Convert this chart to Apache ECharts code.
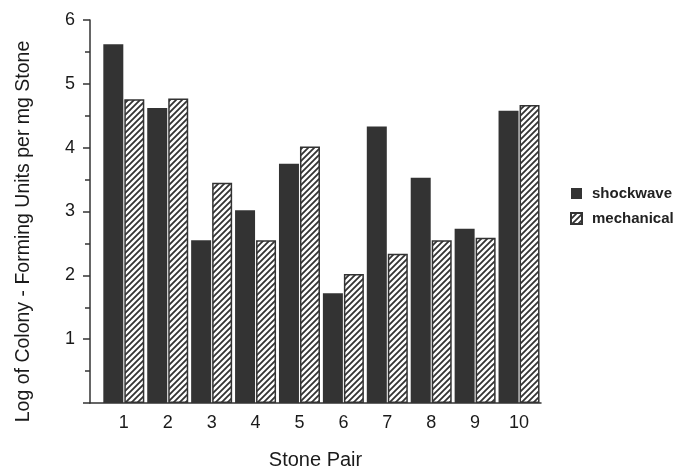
<!DOCTYPE html>
<html>
<head>
<meta charset="utf-8">
<style>html,body{margin:0;padding:0;background:#fff;}#chart{width:679px;height:470px;}</style>
<script src="https://cdn.jsdelivr.net/npm/echarts@6/dist/echarts.min.js"></script>
</head>
<body>
<div id="chart"></div>
<script>
const pairs = [1, 2, 3, 4, 5, 6, 7, 8, 9, 10];
const shockwave = [5.62, 4.62, 2.55, 3.02, 3.75, 1.72, 4.33, 3.53, 2.73, 4.58];
const mechanical = [4.76, 4.77, 3.45, 2.55, 4.02, 2.02, 2.34, 2.55, 2.59, 4.67];
const yTicks = [0, 1, 2, 3, 4, 5, 6];

const ink = '#333333';
const hatch = document.createElement('canvas');
hatch.width = 6; hatch.height = 6;
const hc = hatch.getContext('2d');
hc.fillStyle = '#fff'; hc.fillRect(0, 0, 6, 6);
hc.strokeStyle = ink; hc.lineWidth = 1.8;
hc.beginPath();
hc.moveTo(-1, 7); hc.lineTo(7, -1);
hc.moveTo(-4, 4); hc.lineTo(4, -4);
hc.moveTo(2, 10); hc.lineTo(10, 2);
hc.stroke();

const font = 'Liberation Sans';
const chart = echarts.init(document.getElementById('chart'), null, {renderer: 'canvas'});
chart.setOption({
  backgroundColor: '#fff',
  animation: false,
  grid: {left: 90, right: 138, top: 20, bottom: 67, containLabel: false, outerBoundsMode: 'none'},
  legend: {
    orient: 'vertical', left: 570, top: 186, padding: 0, itemWidth: 11, itemHeight: 11, itemGap: 10,
    icon: 'rect',
    textStyle: {fontFamily: font, fontSize: 15, fontWeight: 'bold', color: '#222', padding: [0, 0, 0, 5]},
    data: ['shockwave', 'mechanical']
  },
  xAxis: {
    type: 'value', min: 0.23, max: 10.5,
    name: 'Stone Pair', nameLocation: 'middle', nameGap: 47,
    nameTextStyle: {fontFamily: font, fontSize: 20, color: '#1a1a1a'},
    axisLine: {show: true, lineStyle: {color: ink, width: 1.5}},
    axisTick: {show: false},
    splitLine: {show: false},
    axisLabel: {customValues: pairs, fontFamily: font, fontSize: 18, color: '#1a1a1a', margin: 11}
  },
  yAxis: {
    type: 'value', min: 0, max: 6, interval: 1,
    name: 'Log of Colony - Forming Units per mg Stone', nameLocation: 'middle', nameGap: 56,
    nameTextStyle: {fontFamily: font, fontSize: 19.5, color: '#1a1a1a', padding: [0, 40, 0, 0]},
    axisLine: {show: true, lineStyle: {color: ink, width: 1.5}},
    axisTick: {show: true, length: 7, lineStyle: {color: ink, width: 1.5}},
    minorTick: {show: true, splitNumber: 2, length: 5, lineStyle: {color: ink, width: 1.5}},
    splitLine: {show: false},
    axisLabel: {fontFamily: font, fontSize: 18, color: '#1a1a1a', margin: 15,
      formatter: v => (v === yTicks[0] ? '' : String(v))}
  },
  series: [
    {name: 'shockwave', type: 'bar', barWidth: 20, barGap: '5%',
     data: pairs.map((p, i) => [p, shockwave[i]]),
     itemStyle: {color: ink}},
    {name: 'mechanical', type: 'bar', barWidth: 20, barGap: '5%',
     data: pairs.map((p, i) => [p, mechanical[i]]),
     itemStyle: {color: {image: hatch, repeat: 'repeat'}, borderColor: ink, borderWidth: 1.5}}
  ]
});
</script>
</body>
</html>
